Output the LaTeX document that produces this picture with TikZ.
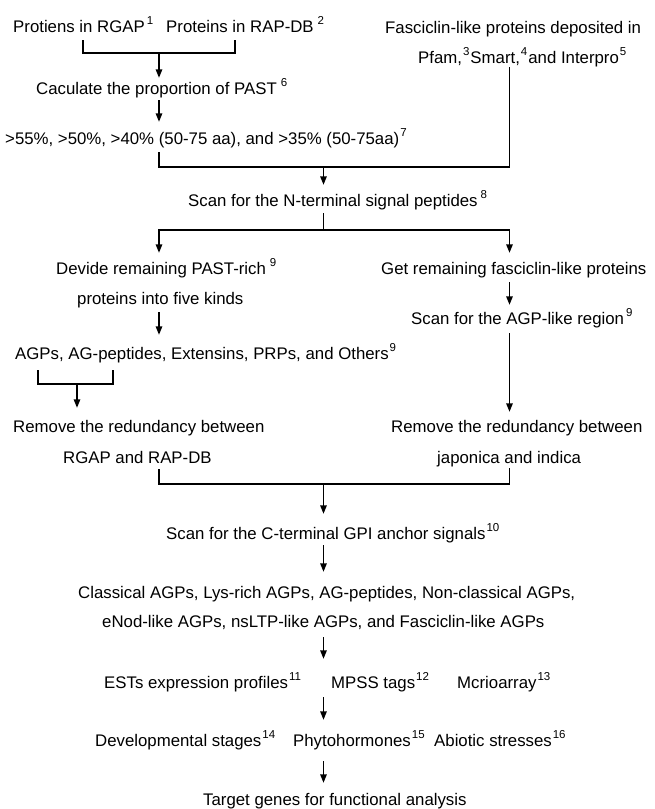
\documentclass[tikz,border=0pt]{standalone}
\usepackage{fontspec}
\setmainfont{Liberation Sans}
\usetikzlibrary{arrows.meta}
\newcommand\fs{\fontsize{16.8}{20}\selectfont}
\newcommand\sps[1]{\raisebox{8pt}{\fontsize{11.5}{11.5}\selectfont #1}}
\tikzset{
  txt/.style={anchor=base west, inner sep=0pt, text height=12pt, text depth=4pt, font=\fs},
  ln/.style={line width=1.4pt},
  arr/.style={line width=1.4pt, -{Triangle[length=8.5pt,width=6.5pt]}}
}
\begin{document}
\begin{tikzpicture}[x=1pt,y=-1pt]
\useasboundingbox (0,0) rectangle (654,809);
% columns
\coordinate (colA) at (159,0);
\coordinate (colB) at (323.5,0);
\coordinate (colC) at (509.5,0);
\coordinate (colD) at (77,0);
% texts
\node[txt] (rgap) at (13,32) {Protiens in RGAP\kern2pt\sps{1}};
\node[txt] (rapdb) at (166,32) {Proteins in RAP-DB\kern4pt\sps{2}};
\node[txt] (calc) at (36,94) {Caculate the proportion of PAST\kern4pt\sps{6}};
\node[txt] (pct) at (5,144) {>55\%, >50\%, >40\% (50-75 aa), and >35\% (50-75aa)\kern1pt\sps{7}};
\node[txt] (fas) at (385,33) {Fasciclin-like proteins deposited in};
\node[txt] (pfam) at (418,63) {Pfam,\kern1pt\sps{3}\kern1pt Smart,\kern1pt\sps{4}\kern1pt and Interpro\kern1pt\sps{5}};
\node[txt] (nterm) at (188,206) {Scan for the N-terminal signal peptides\kern3pt\sps{8}};
\node[txt] (devide) at (56,274) {Devide remaining PAST-rich\kern4pt\sps{9}};
\node[txt] (five) at (77,304) {proteins into five kinds};
\node[txt] (getrem) at (381,274) {Get remaining fasciclin-like proteins};
\node[txt] (agplike) at (411,324) {Scan for the AGP-like region\kern2pt\sps{9}};
\node[txt] (agps) at (15,359) {AGPs, AG-peptides, Extensins, PRPs, and Others\kern1pt\sps{9}};
\node[txt] (remL1) at (13,432) {Remove the redundancy between};
\node[txt] (remL2) at (63,463) {RGAP and RAP-DB};
\node[txt] (remR1) at (391,432) {Remove the redundancy between};
\node[txt] (remR2) at (437,463) {japonica and indica};
\node[txt] (cterm) at (166,539) {Scan for the C-terminal GPI anchor signals\kern1pt\sps{10}};
\node[txt] (class1) at (78,598) {Classical AGPs, Lys-rich AGPs, AG-peptides, Non-classical AGPs,};
\node[txt] (class2) at (102,627) {eNod-like AGPs, nsLTP-like AGPs, and Fasciclin-like AGPs};
\node[txt] (ests) at (104,688) {ESTs expression profiles\kern1pt\sps{11}};
\node[txt] (mpss) at (331,688) {MPSS tags\kern1pt\sps{12}};
\node[txt] (mcrio) at (457,688) {Mcrioarray\kern1pt\sps{13}};
\node[txt] (dev) at (95,746) {Developmental stages\kern1pt\sps{14}};
\node[txt] (phyto) at (293,746) {Phytohormones\kern1pt\sps{15}};
\node[txt] (abio) at (434,746) {Abiotic stresses\kern1pt\sps{16}};
\node[txt] (target) at (203,805) {Target genes for functional analysis};
% bracket points
\coordinate (b1a) at (83,40);
\coordinate (b1b) at (235,40);
\coordinate (b1m) at (159,53);
\coordinate (m2) at (323.5,167);
\coordinate (m3) at (323.5,230);
\coordinate (b2a) at (38,370);
\coordinate (b2b) at (113,370);
\coordinate (b2m) at (77,384);
\coordinate (b3a) at (159,469);
\coordinate (b3b) at (509.5,468);
\coordinate (m4) at (323.5,484);
% connectors
\draw[ln] (b1a) |- (b1m) -| (b1b);
\draw[arr] (b1m) -- ([yshift=4pt]calc.north -| b1m);
\draw[arr] ([yshift=-2pt]calc.south -| colA) -- ([yshift=10pt]pct.north -| colA);
\draw[ln] ([yshift=-4pt]pct.south -| colA) |- (m2) -| (pfam.south -| colC);
\draw[arr] (m2) -- ([yshift=9pt]nterm.north -| colB);
\draw[ln] ([yshift=-3pt]nterm.south -| colB) -- (m3);
\draw[arr] (m3) -| ([yshift=9pt]devide.north -| colA);
\draw[arr] (m3) -| ([yshift=9pt]getrem.north -| colC);
\draw[arr] ([yshift=-4pt]five.south -| colA) -- ([yshift=12pt]agps.north -| colA);
\draw[arr] ([yshift=-4pt]getrem.south -| colC) -- ([yshift=7pt]agplike.north -| colC);
\draw[ln] (b2a) |- (b2m) -| (b2b);
\draw[arr] (b2m) -- ([yshift=12pt]remL1.north -| b2m);
\draw[arr] ([yshift=-5pt]agplike.south -| colC) -- ([yshift=8pt]remR1.north -| colC);
\draw[ln] (b3a) |- (m4) -| (b3b);
\draw[arr] (m4) -- ([yshift=13pt]cterm.north -| colB);
\draw[arr] ([yshift=-2pt]cterm.south -| colB) -- ([yshift=14pt]class1.north -| colB);
\draw[arr] ([yshift=-6pt]class2.south -| colB) -- ([yshift=17pt]mpss.north -| colB);
\draw[arr] ([yshift=-5pt]mpss.south -| colB) -- ([yshift=14pt]phyto.north -| colB);
\draw[arr] ([yshift=-11pt]phyto.south -| colB) -- ([yshift=10pt]target.north -| colB);
\end{tikzpicture}
\end{document}
